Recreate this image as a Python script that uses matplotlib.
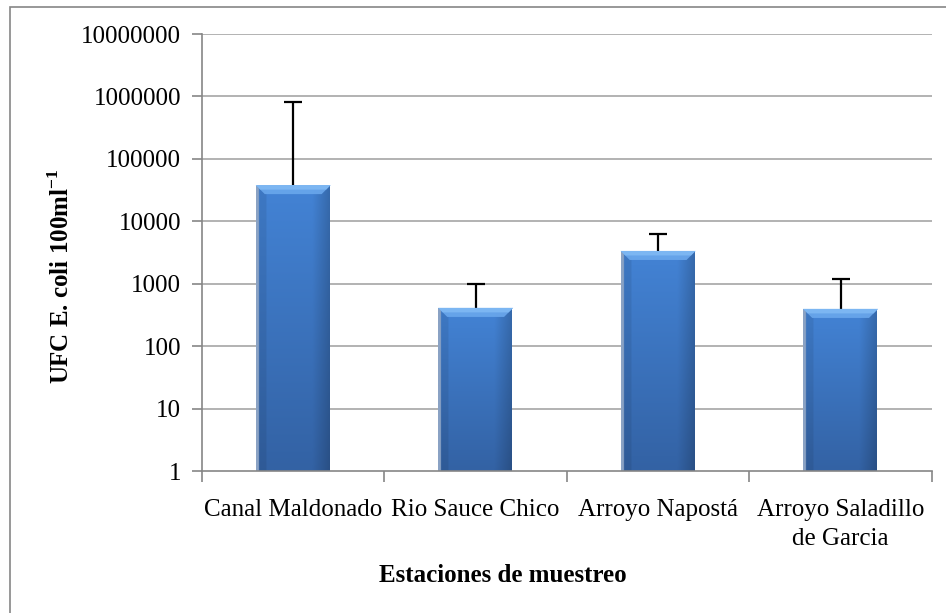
import numpy as np
import matplotlib
matplotlib.use("Agg")
from matplotlib import pyplot as plt
from matplotlib.patches import Rectangle, Polygon
from matplotlib.transforms import blended_transform_factory

plt.rcParams['font.family'] = ['Liberation Serif', 'DejaVu Serif']
plt.rcParams['mathtext.fontset'] = 'custom'
plt.rcParams['mathtext.rm'] = 'Liberation Serif'
plt.rcParams['mathtext.bf'] = 'Liberation Serif:bold'

estaciones = ["Canal Maldonado", "Rio Sauce Chico", "Arroyo Napostá",
              "Arroyo Saladillo\nde Garcia"]
ufc_media = [38000, 410, 3350, 395]
ufc_error_sup = [820000, 1000, 6300, 1200]
y_ticks = [1, 10, 100, 1000, 10000, 100000, 1000000, 10000000]
y_labels = [str(t) for t in y_ticks]

fig = plt.figure(figsize=(9.46, 6.13), dpi=100)
ax = fig.add_axes([0.2135, 0.2316, 0.7715, 0.7129])
ax.set_yscale('log')
ax.set_ylim(1, 10000000)
x = np.arange(len(estaciones))
ax.set_xlim(-0.5, len(estaciones) - 0.5)

# gridlines
for t in y_ticks[1:]:
    ax.axhline(t, color='#a6a6a6', lw=1.2, zorder=0)

ancho = 0.41
bars = ax.bar(x, ufc_media, width=ancho, color='none', edgecolor='none', zorder=2)

# gradient fill for each bar
trans = blended_transform_factory(ax.transData, ax.transAxes)
cols = np.linspace(0, 1, 60)
top_c = np.array([0x43, 0x83, 0xd5]) / 255
bot_c = np.array([0x33, 0x62, 0xa4]) / 255
fig.canvas.draw()
ax_h_px = ax.get_window_extent().height
ax_w_px = ax.get_window_extent().width
px_per_x = ax_w_px / (ax.get_xlim()[1] - ax.get_xlim()[0])
for xi, b in zip(x, bars):
    v = b.get_height()
    top = ax.transAxes.inverted().transform(ax.transData.transform((xi, v)))[1]
    rows = np.linspace(0, 1, 100)[:, None, None]
    img = top_c * (1 - rows) + bot_c * rows
    img = np.repeat(img, 60, axis=1)
    shade = np.ones(60)
    shade[cols > 0.75] = 1 - (cols[cols > 0.75] - 0.75) * 0.8
    shade[cols < 0.12] = 0.92
    img = img * shade[None, :, None]
    img[:, :2, :] = np.array([0x8a, 0xa2, 0xc4]) / 255
    x0, x1 = xi - ancho / 2, xi + ancho / 2
    im = ax.imshow(np.clip(img, 0, 1), extent=[x0, x1, 0, top], transform=trans,
                   aspect='auto', zorder=2, interpolation='bilinear')
    clip = Rectangle((x0, 0), ancho, top, transform=trans, facecolor='none',
                     edgecolor='none')
    ax.add_patch(clip)
    im.set_clip_path(clip)
    # top bevel
    h = 9 / ax_h_px
    dx = 9 / px_per_x
    bevel = Polygon([(x0, top), (x1, top), (x1 - dx, top - h), (x0 + dx, top - h)],
                    closed=True, transform=trans, facecolor='#6aa7ec',
                    edgecolor='none', zorder=3, alpha=0.9)
    ax.add_patch(bevel)
    bevel2 = Polygon([(x0, top), (x1, top), (x1 - dx / 2, top - h / 2),
                      (x0 + dx / 2, top - h / 2)],
                     closed=True, transform=trans, facecolor='#7cb6f2',
                     edgecolor='none', zorder=3)
    ax.add_patch(bevel2)

# error bars (upper only)
ax.vlines(x, ufc_media, ufc_error_sup, color='black', lw=1.6, zorder=1)
ax.plot(x, ufc_error_sup, ls='none', marker='_', ms=13, mew=1.6, color='black',
        zorder=1)

ax.set_yticks(y_ticks)
ax.set_yticklabels(y_labels)
ax.minorticks_off()
ax.tick_params(axis='y', labelsize=18, length=7, width=1.2, color='#868686',
               direction='out', pad=8)
ax.set_xticks(x)
ax.set_xticklabels(estaciones, fontsize=18, linespacing=1.4)
ax.tick_params(axis='x', length=0, pad=20)
ax.set_xticks(np.arange(-0.5, len(estaciones)), minor=True)
ax.tick_params(axis='x', which='minor', length=8, width=1.2, color='#868686',
               direction='out')

for s in ['top', 'right']:
    ax.spines[s].set_visible(False)
for s in ['left', 'bottom']:
    ax.spines[s].set_color('#868686')
    ax.spines[s].set_linewidth(1.2)

fig.text(503 / 946, 1 - 575 / 613, "Estaciones de muestreo", fontsize=18,
         fontweight='bold', ha='center', va='center')
fig.text(61 / 946, 1 - 276 / 613, r"UFC E. coli 100ml$^{\mathbf{-1}}$",
         fontsize=18, fontweight='bold', rotation=90, ha='center', va='center')

fig.patches.append(Rectangle((10 / 946, -0.1), 1.2, 1.1 - 7 / 613,
                             transform=fig.transFigure, fill=False,
                             edgecolor='#868686', lw=1.2))

fig.savefig("out.png", dpi=100)
